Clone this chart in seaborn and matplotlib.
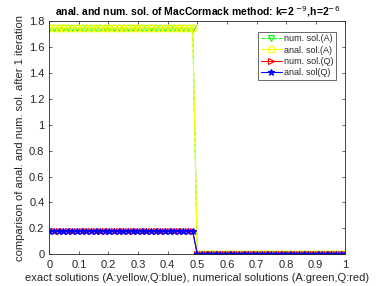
import numpy as np
import pandas as pd
import matplotlib
matplotlib.use("Agg")
import matplotlib.pyplot as plt
import seaborn as sns

# grid: h = 2^-6 on [0, 1]
x_grid = np.linspace(0.0, 1.0, 65)
num_A = [1.75] * 32 + [0.0] * 33
anal_A = [1.75] * 32 + [0.0] * 33
num_Q = [0.178] * 32 + [0.0] * 33
anal_Q = [0.178] * 32 + [0.0] * 33

sns.set_style("white")
plt.rcParams['font.family'] = ['Liberation Sans', 'DejaVu Sans']

df = pd.DataFrame({"x": x_grid, "numA": num_A, "analA": anal_A,
                   "numQ": num_Q, "analQ": anal_Q})

series = [
    ("numA", "#00ff00", "--", "v", "none", "num. sol.(A)"),
    ("analA", "#ffff00", "-", "o", "none", "anal. sol.(A)"),
    ("numQ", "#ff0000", "-", ">", "none", "num. sol.(Q)"),
    ("analQ", "#0000ff", "-", "*", "#0000ff", "anal. sol(Q)"),
]

fig = plt.figure(figsize=(3.82, 2.86), dpi=100)
ax = fig.add_axes([0.129, 0.111, 0.775, 0.815])

for col, c, ls, mk, fc, lab in series:
    sns.lineplot(data=df, x="x", y=col, ax=ax, color=c, linestyle=ls,
                 marker=mk, markersize=5, markerfacecolor=fc, markeredgecolor=c,
                 markeredgewidth=0.8, linewidth=0.8, label=lab)

ax.set_xlim(0, 1)
ax.set_ylim(0, 1.8)
ax.set_xticks(np.arange(0, 1.01, 0.1))
ax.set_xticklabels(["0", "0.1", "0.2", "0.3", "0.4", "0.5", "0.6", "0.7", "0.8", "0.9", "1"])
ax.set_yticks(np.arange(0, 1.81, 0.2))
ax.set_yticklabels(["0", "0.2", "0.4", "0.6", "0.8", "1", "1.2", "1.4", "1.6", "1.8"])

ax.tick_params(direction="in", length=2.5, width=0.5, labelsize=8, colors="#262626",
               top=True, right=True, bottom=True, left=True, labeltop=False, labelright=False)
ax.tick_params(axis="x", pad=4)
for s in ax.spines.values():
    s.set_linewidth(0.6)
    s.set_color("#262626")
    s.set_visible(True)

ax.set_xlabel("exact solutions (A:yellow,Q:blue), numerical solutions (A:green,Q:red)",
              fontsize=8, color="#262626", labelpad=2)
ax.set_ylabel("comparison of anal. and num. sol. after 1 iteration",
              fontsize=8, color="#262626", labelpad=3)
ax.set_title("anal. and num. sol. of MacCormack method: k=2 $^{-9}$,h=2$^{-6}$",
             fontsize=7.5, fontweight="bold", color="black", pad=4)

leg = ax.legend(loc="upper right", bbox_to_anchor=(0.97, 0.955), fontsize=6.5,
                frameon=True, fancybox=False, borderpad=0.3, labelspacing=0.25,
                handlelength=2.3, handletextpad=0.3, borderaxespad=0.0)
leg.get_frame().set_edgecolor("#262626")
leg.get_frame().set_linewidth(0.6)

fig.savefig("out.png", dpi=100)
